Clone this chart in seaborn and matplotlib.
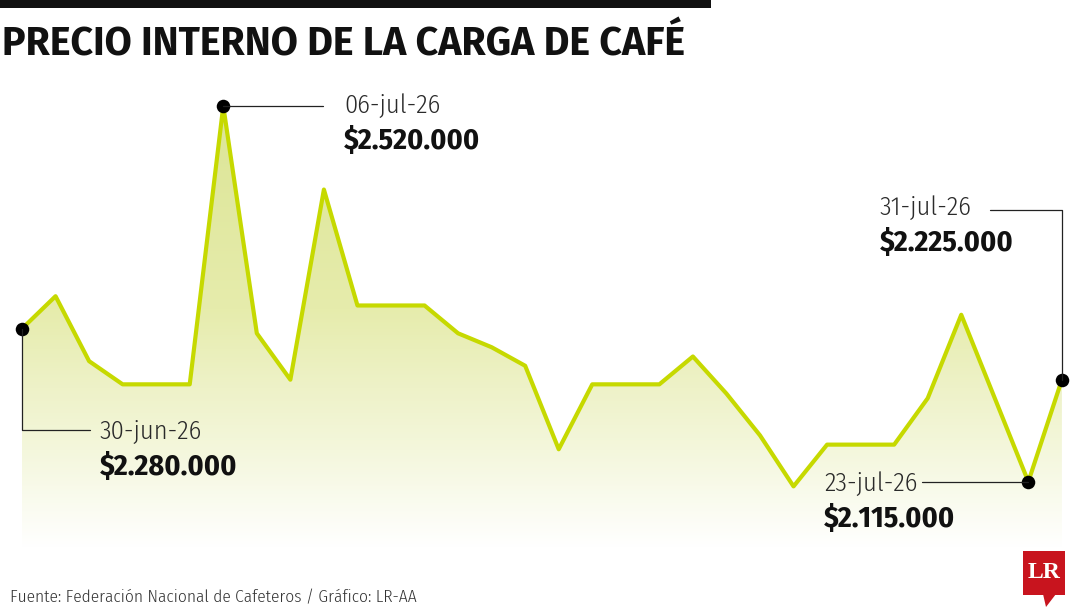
import numpy as np
import matplotlib
matplotlib.use("Agg")
import matplotlib.pyplot as plt
import seaborn as sns
from matplotlib.colors import LinearSegmentedColormap
from matplotlib.lines import Line2D
from matplotlib.patches import Rectangle, Polygon
from matplotlib.transforms import IdentityTransform

# precio interno de la carga de cafe (pesos), una observacion por dia
precio = [2280000, 2315000, 2245000, 2220000, 2220000, 2220000, 2520000, 2275000,
          2225000, 2430000, 2305000, 2305000, 2305000, 2275000, 2260000, 2240000,
          2150000, 2220000, 2220000, 2220000, 2250000, 2210000, 2165000, 2110000,
          2155000, 2155000, 2155000, 2205000, 2295000, 2205000, 2115000, 2225000]
dias = list(range(len(precio)))

# puntos destacados
idx_destacados = [0, 6, 30, 31]
fechas_destacadas = ["30-jun-26", "06-jul-26", "23-jul-26", "31-jul-26"]

sns.set_theme(style="white")
plt.rcParams['font.family'] = ['Fira Sans Condensed', 'DejaVu Sans']

LINEA = '#c6d900'

fig = plt.figure(figsize=(10.8, 6.08), dpi=100)
ax = fig.add_axes([0, 0, 1, 1])
ax.set_xlim(-0.656, 31.54)
ax.set_ylim(1978900, 2634300)
ax.set_autoscale_on(False)
ax.axis('off')

base = 2043500

# relleno con degradado
poly = ax.fill_between(dias, precio, base, color='none', lw=0)
grad = np.linspace(0, 1, 256).reshape(-1, 1)
cmap = LinearSegmentedColormap.from_list(
    'cafe', [(0, '#ffffff'), (0.22, '#f4f7dc'), (0.36, '#eef2c8'),
             (0.54, '#e6ecac'), (1, '#dce596')])
im = ax.imshow(grad, extent=[dias[0], dias[-1], base, max(precio)], origin='lower',
               aspect='auto', cmap=cmap, zorder=1)
im.set_clip_path(poly.get_paths()[0], transform=ax.transData)

sns.lineplot(x=dias, y=precio, color=LINEA, linewidth=3.0, ax=ax, zorder=3)

xs = [dias[i] for i in idx_destacados]
ys = [precio[i] for i in idx_destacados]
ax.scatter(xs, ys, s=95, color='black', zorder=5, linewidths=0)

# conectores y textos (offsets en pixeles)
conectores = [
    [(0, 0), (0, -101), (68, -101)],
    [(0, 0), (100, 0)],
    [(0, 0), (-106, 0)],
    [(0, 0), (0, 170), (-72, 170)],
]
pos_fecha = [(78, -103), (121, 0), (-204, -2), (-182, 172)]
pos_valor = [(78, -138), (121, -35), (-204, -37), (-182, 137)]

fig.canvas.draw()
for k, i in enumerate(idx_destacados):
    px, py = ax.transData.transform((dias[i], precio[i]))
    cx = [px + d[0] for d in conectores[k]]
    cy = [py + d[1] for d in conectores[k]]
    fig.add_artist(Line2D(cx, cy, color='#222222', lw=0.9, transform=IdentityTransform(),
                          zorder=4))
    valor = "$" + f"{precio[i]:,.0f}".replace(",", ".")
    ax.annotate(fechas_destacadas[k], xy=(dias[i], precio[i]), xytext=pos_fecha[k],
                textcoords='offset pixels', ha='left', va='center', fontsize=19,
                fontweight=300, color='#2a2a2a', zorder=6)
    ax.annotate(valor, xy=(dias[i], precio[i]), xytext=pos_valor[k],
                textcoords='offset pixels', ha='left', va='center', fontsize=21.5,
                fontweight='bold', color='#111111', zorder=6)

# barra superior y titulo
fig.add_artist(Rectangle((0, 600), 711, 8, transform=IdentityTransform(),
                         color='#111111', lw=0))
fig.text(2 / 1080, 1 - 45 / 608, "PRECIO INTERNO DE LA CARGA DE CAFÉ", ha='left',
         va='center', fontsize=28.4, fontweight='bold', color='#111111',
         family=['Fira Sans', 'Fira Sans Condensed', 'DejaVu Sans'])

# fuente
fig.text(10 / 1080, 1 - 598 / 608,
         "Fuente: Federación Nacional de Cafeteros / Gráfico: LR-AA",
         ha='left', va='center', fontsize=12.5, fontweight=300, color='#333333')

# logo
fig.add_artist(Rectangle((1023, 13), 42, 44, transform=IdentityTransform(),
                         color='#c8141e', lw=0))
fig.add_artist(Polygon([(1043, 14), (1056, 14), (1046, 1)], closed=True,
                       transform=IdentityTransform(), color='#c8141e', lw=0))
fig.text(1044 / 1080, 1 - 573 / 608, "LR", ha='center', va='center', fontsize=17,
         fontweight='bold', color='white', family=['Liberation Serif', 'DejaVu Serif'])

fig.savefig("out.png", dpi=100)
